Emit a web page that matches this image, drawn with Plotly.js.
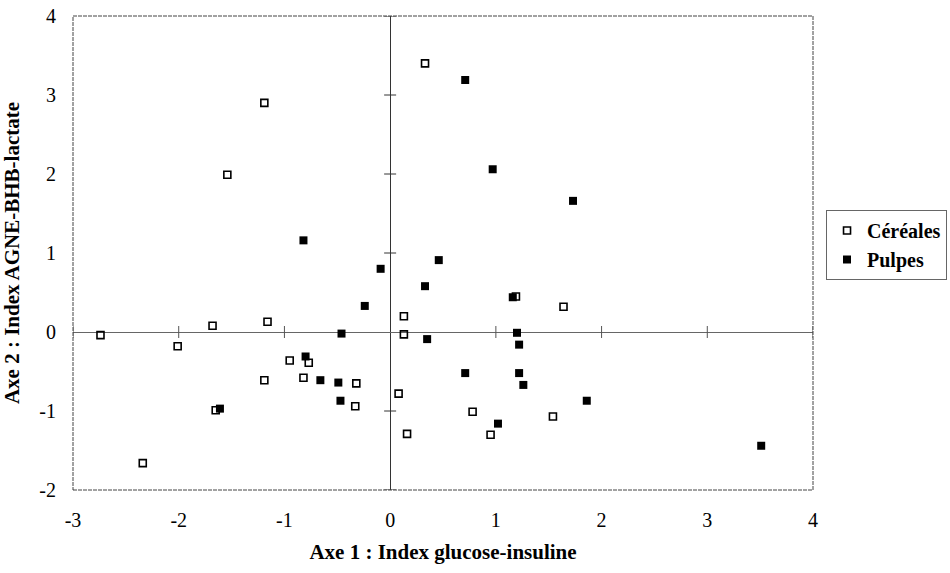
<!DOCTYPE html>
<html>
<head>
<meta charset="utf-8">
<script src="https://cdn.plot.ly/plotly-3.0.1.min.js"></script>
<style>html,body{margin:0;padding:0;background:#fff;}#chart{width:950px;height:573px;}</style>
</head>
<body>
<div id="chart"></div>
<script>
// Céréales (open squares)
const cerealesX = [-1.19, -1.54, 0.33, -2.74, -1.68, -1.16, -2.01, -0.95, -0.77, -1.19, -0.82, -0.32, -0.33, -1.65, -2.34, 0.08, 1.19, 1.64, 0.13, 0.13, 0.78, 1.54, 0.16, 0.95];
const cerealesY = [2.90, 1.99, 3.40, -0.04, 0.08, 0.13, -0.18, -0.36, -0.39, -0.61, -0.58, -0.65, -0.94, -0.99, -1.66, -0.78, 0.45, 0.32, 0.20, -0.03, -1.01, -1.07, -1.29, -1.30];
// Pulpes (filled squares)
const pulpesX = [-0.82, -0.09, 0.71, 0.97, 1.73, 0.46, 0.33, -0.24, -0.46, -0.80, -0.66, -0.49, -0.47, -1.61, 1.16, 1.20, 0.35, 1.22, 0.71, 1.22, 1.26, 1.86, 1.02, 3.51];
const pulpesY = [1.16, 0.80, 3.19, 2.06, 1.66, 0.91, 0.58, 0.33, -0.02, -0.31, -0.61, -0.64, -0.87, -0.97, 0.44, -0.01, -0.09, -0.16, -0.52, -0.52, -0.67, -0.87, -1.16, -1.44];

const xTicks = [-3, -2, -1, 0, 1, 2, 3, 4];
const yTicks = [-2, -1, 0, 1, 2, 3, 4];
const xRange = [-3, 4];
const yRange = [-2, 4];

const serif = "Liberation Serif, Times New Roman, serif";

const traces = [
  {
    x: cerealesX, y: cerealesY, type: 'scatter', mode: 'markers', name: 'Céréales',
    marker: {symbol: 'square-open', size: 7, color: '#000', line: {width: 1.6, color: '#000'}}
  },
  {
    x: pulpesX, y: pulpesY, type: 'scatter', mode: 'markers', name: 'Pulpes',
    marker: {symbol: 'square', size: 8, color: '#000'}
  }
];

const shapes = [];
xTicks.filter(v => v !== 0).forEach(v => {
  shapes.push({type: 'line', xref: 'x', yref: 'y', x0: v, x1: v, ysizemode: 'pixel', yanchor: 0, y0: -6, y1: 6,
    line: {color: '#555', width: 1}});
});
yTicks.filter(v => v !== 0).forEach(v => {
  shapes.push({type: 'line', xref: 'x', yref: 'y', y0: v, y1: v, xsizemode: 'pixel', xanchor: 0, x0: -6, x1: 6,
    line: {color: '#333', width: 1}});
});
shapes.push({type: 'rect', xref: 'paper', yref: 'paper', x0: 0, x1: 1, y0: 0, y1: 1,
  line: {color: '#444', width: 1, dash: '4px,1px'}});

const layout = {
  width: 950, height: 573,
  margin: {l: 72.5, r: 137, t: 16, b: 83, autoexpand: false},
  paper_bgcolor: '#fff', plot_bgcolor: '#fff',
  showlegend: true,
  legend: {
    xref: 'container', yref: 'container',
    x: 0.8695, y: 0.6335, xanchor: 'left', yanchor: 'top',
    bordercolor: '#666', borderwidth: 1,
    font: {family: serif, size: 20, color: '#000', weight: 'bold'},
    itemwidth: 30, tracegroupgap: 0
  },
  xaxis: {
    range: xRange, tickvals: xTicks, ticktext: xTicks.map(String),
    showgrid: false, zeroline: true, zerolinecolor: '#333', zerolinewidth: 1,
    showline: false, ticks: '', ticklabelstandoff: 16, automargin: false,
    tickfont: {family: serif, size: 20, color: '#000'},
    title: {text: 'Axe 1 : Index glucose-insuline', standoff: 14,
      font: {family: serif, size: 21, color: '#000', weight: 'bold'}}
  },
  yaxis: {
    range: yRange, tickvals: yTicks, ticktext: yTicks.map(String),
    showgrid: false, zeroline: true, zerolinecolor: '#666', zerolinewidth: 1,
    showline: false, ticks: '', ticklabelstandoff: 16, automargin: false,
    tickfont: {family: serif, size: 20, color: '#000'},
    title: {text: 'Axe 2 : Index AGNE-BHB-lactate', standoff: 16,
      font: {family: serif, size: 21, color: '#000', weight: 'bold'}}
  },
  shapes: shapes
};

Plotly.newPlot('chart', traces, layout, {displayModeBar: false, staticPlot: true});
</script>
</body>
</html>
